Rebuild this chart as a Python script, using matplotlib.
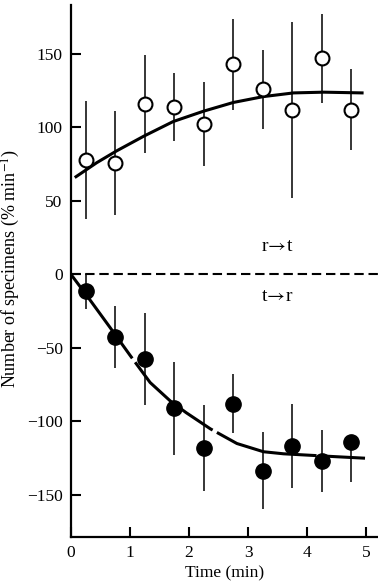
import matplotlib

matplotlib.use("Agg")
import matplotlib.pyplot as plt

plt.rcParams["font.family"] = ["Liberation Serif", "DejaVu Serif"]
plt.rcParams["mathtext.fontset"] = "stix"
plt.rcParams["font.size"] = 12.5

# data
times = [0.25, 0.75, 1.25, 1.75, 2.25, 2.75, 3.25, 3.75, 4.25, 4.75]

r_to_t = [78, 76, 116, 114, 102.5, 143, 126, 112, 147, 112]
r_to_t_err = [40, 35.5, 33.5, 23, 28.5, 31, 27, 60, 30.5, 27.5]

t_to_r = [-11.5, -42.5, -57.5, -91, -118, -88, -133.5, -116.5, -126.7, -114]
t_to_r_err_lo = [12, 21, 31, 31.5, 29, 20, 26, 28.5, 21, 27]
t_to_r_err_hi = [12, 21, 31, 31.5, 29, 20, 26, 28.5, 21, 0]

# fitted curves, points
fit_up_t = [0.085, 0.435, 0.77, 1.23, 1.73, 2.24, 2.75, 3.26, 3.77, 4.28, 4.93]
fit_up_v = [66.5, 76, 84, 94, 104, 111, 117, 121, 123.5, 124, 123.5]

fit_dn_t = [0.0, 0.27, 0.66, 1.0, 1.34, 1.68, 1.95, 2.36, 2.81, 3.26, 3.6, 4.05, 4.5, 4.98]
fit_dn_v = [0, -14.5, -36, -55, -73.5, -86, -94, -105, -115, -120.6, -122, -123, -124, -125]

fig = plt.figure(figsize=(3.78, 5.88), dpi=100)
ax = fig.add_axes([71 / 378, 1 - 537 / 588, 1 - 71 / 378, (537 - 5) / 588])

ax.axhline(0, color="black", lw=1.5, dashes=(4.5, 2.3))

ax.plot(fit_up_t, fit_up_v, color="black", lw=2.2, zorder=3)
ax.plot(fit_dn_t, fit_dn_v, color="black", lw=2.2, dashes=(34, 1.6), zorder=3)

ax.errorbar(times, r_to_t, yerr=r_to_t_err, fmt="o", color="black",
            mfc="white", mec="black", mew=1.5, ms=10, elinewidth=1.1,
            capsize=0, zorder=4)
ax.errorbar(times, t_to_r, yerr=[t_to_r_err_lo, t_to_r_err_hi], fmt="o",
            color="black", ms=11, elinewidth=1.1, capsize=0, zorder=4)

ax.text(3.49, 19, r"r$\!{\rightarrow}\!$t", ha="center", va="center", fontsize=14)
ax.text(3.49, -15, r"t$\!{\rightarrow}\!$r", ha="center", va="center", fontsize=14)

ax.set_xlim(0, 5.2)
ax.set_ylim(-178.6, 183.3)
ax.set_xticks([0, 1, 2, 3, 4, 5])
ax.set_yticks([-150, -100, -50, 0, 50, 100, 150])
ax.set_yticklabels(["\u2212150", "\u2212100", "\u221250", "0", "50", "100", "150"])
ax.tick_params(direction="in", length=7, width=1.5, pad=6)

for side in ("top", "right"):
    ax.spines[side].set_visible(False)
for side in ("left", "bottom"):
    ax.spines[side].set_linewidth(1.6)

ax.set_xlabel("Time (min)", labelpad=3)
fig.text(11 / 378, 1 - 268 / 588, "Number of specimens (% min$^{-1}$)",
         rotation=90, ha="center", va="center", fontsize=13)

fig.savefig("out.png", dpi=100)
